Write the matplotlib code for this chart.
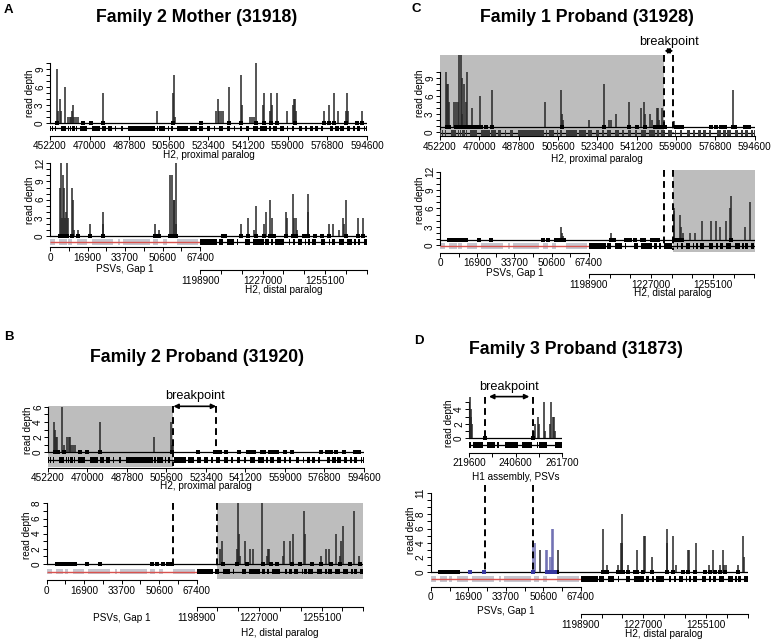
import matplotlib.pyplot as plt
import numpy as np

plt.rcParams['font.family'] = ['Liberation Sans', 'DejaVu Sans']

W, H = 771, 641

# ---- coordinate systems ----
PROX_START, PROX_END = 452200, 594600
PSV_END = 67400
DIST_START, DIST_END = 1198900, 1273833
XSPAN = 142400  # PSVs (0-67400) joined to the distal paralog on one axis

prox_ticks = [452200, 470000, 487800, 505600, 523400, 541200, 559000, 576800, 594600]
psv_ticks = [0, 16900, 33700, 50600, 67400]
psv_minor = [8450, 25300, 42150, 59000]
dist_ticks = [1198900, 1227000, 1255100]
dist_minor = [1208267, 1217633, 1236367, 1245733, 1264467, 1273833]
h1_ticks = [219600, 240600, 261700]
h1_minor = [230100, 251150]

# ---- gene / PSV tracks (start, end) ----
prox_blocks = [(452200, 452650), (453100, 453400), (453850, 454150), (454600, 454900),
               (457150, 459250), (460150, 460600), (461200, 461650), (462100, 463450),
               (464050, 464500), (465700, 469000), (470950, 474700), (475450, 477400),
               (478450, 479950), (481450, 482050), (484000, 485200), (487450, 499400),
               (500150, 500750), (501350, 503900), (505100, 505550), (506450, 507350),
               (509150, 514400), (515150, 518150), (519200, 521150), (522650, 524150),
               (525650, 526400), (527900, 529850), (531650, 533150), (534650, 535400),
               (537350, 538550), (540350, 541400), (543350, 545450), (546650, 549650),
               (550400, 551450), (552350, 554150), (555350, 557150), (558650, 559250),
               (560900, 561650), (563900, 565400), (566900, 567600), (569100, 570150),
               (571350, 572550), (573900, 574800), (577800, 579300), (580350, 581850),
               (582300, 584100), (585600, 587100), (588300, 589350), (590100, 591600),
               (593100, 593850), (594150, 594600)]
dist_blocks = [(1198900, 1206450), (1207200, 1209150), (1210950, 1213950), (1215450, 1215900),
               (1219200, 1221150), (1222650, 1227450), (1228200, 1229700), (1230750, 1231650),
               (1232700, 1236450), (1238700, 1239450), (1240650, 1241700), (1242900, 1244700),
               (1246150, 1246600), (1247350, 1248400), (1249150, 1251100), (1253200, 1255150),
               (1256650, 1257400), (1258150, 1259650), (1261150, 1263400), (1264900, 1267150),
               (1268200, 1269100), (1269700, 1270900), (1272400, 1273833)]
psv_blocks = [(0, 2250), (4200, 7500), (8250, 9750), (12000, 16800), (18750, 28500),
              (30750, 31500), (33000, 44950), (46450, 48700), (50650, 52450), (56950, 66700)]
h1_blocks = [(219600, 220500), (221250, 226050), (227550, 231350), (232400, 233300),
             (235850, 241850), (243350, 247900), (250150, 250900), (251350, 254650),
             (258400, 261700)]

# ---- A: Family 2 Mother ----
a_top_pos = [455500, 455950, 456700, 457000, 458800, 460150, 461050, 461640, 462250, 462400,
             463140, 463900, 464800, 475900, 500170, 507660, 507960, 508260, 526850, 527600,
             528200, 529100, 529850, 532400, 537950, 538250, 542140, 542890, 543640, 544840,
             547840, 548140, 550840, 551440, 551740, 554130, 558630, 561180, 561630, 562230,
             562530, 575120, 577520, 579620, 581710, 585310, 585610, 585910, 592360]
a_top_h = [9, 2, 4, 2, 6, 1, 1, 1, 2, 3, 1, 1, 1, 5, 2, 5, 8, 1, 2, 4, 2, 2, 2, 6, 8,
           3, 1, 1, 1, 10, 3, 5, 2, 5, 3, 5, 2, 3, 4, 4, 2, 2, 3, 5, 2, 2, 5, 2, 2]
a_top_zero = [455500, 467190, 470490, 475880, 507660, 520110, 532400, 537950, 544840, 548140,
              551430, 554130, 562230, 575120, 577520, 579620, 585310, 590110, 592360]
a_bot_psv_pos = [4500, 4950, 5400, 6000, 6450, 6900, 7350, 7800, 8250, 9750, 10200, 10650,
                 12450, 18000, 23700, 24000, 47100, 49000, 54000, 54700, 55500, 55900, 56400, 56700]
a_bot_psv_h = [8, 12, 3, 10, 8, 3, 4, 12, 3, 8, 6, 1, 1, 2, 4, 2, 2, 1, 10, 10, 6, 6, 12, 2]
a_bot_psv_zero = [4500, 6000, 7500, 9750, 12450, 18000, 23700, 47100, 49000, 54000, 54700,
                  55500, 56400]
a_bot_dist_pos = [1217240, 1220240, 1222940, 1223990, 1227440, 1228340, 1230130, 1231180,
                  1237480, 1237930, 1240630, 1241230, 1241980, 1242280, 1247220, 1247520,
                  1256670, 1258470, 1261310, 1262960, 1263410, 1264460, 1269700, 1271960]
a_bot_dist_h = [2, 3, 1, 5, 2, 4, 6, 3, 4, 3, 7, 3, 3, 1, 7, 4, 2, 2, 1, 3, 2, 6, 3, 3]
a_bot_dist_zero = [1209150, 1210200, 1217240, 1220240, 1223990, 1227440, 1230130, 1232230,
                   1237480, 1240630, 1241980, 1245420, 1247220, 1250670, 1253670, 1256670,
                   1264460, 1269700, 1271960]

# ---- B: Family 2 Proband ----
b_top_pos = [454910, 455360, 455970, 456420, 458380, 459580, 460940, 461540, 461990, 462750,
             463500, 464560, 475560, 499970, 507510, 507960, 508410]
b_top_h = [4, 3, 2, 2, 6, 1, 2, 2, 2, 1, 1, 1, 4, 2, 4, 1, 1]
b_top_zero = [455210, 456720, 459430, 466820, 469980, 475560, 507960, 520020, 527550, 528600,
              529670, 532530, 538100, 542170, 543670, 545180, 548650, 549400, 552420, 553930,
              555440, 559200, 562210, 575020, 577730, 579540, 581800, 585570, 590390, 592350]
b_top_break = (508710, 528000)
b_bot_dist_pos = [1209450, 1210500, 1217240, 1217540, 1217840, 1218440, 1220690, 1222940,
                  1224140, 1228490, 1230430, 1231180, 1231480, 1237930, 1238230, 1240930,
                  1242430, 1247220, 1247670, 1254720, 1256970, 1258620, 1261460, 1263410,
                  1263710, 1264610, 1269710, 1272110]
b_bot_dist_h = [2, 3, 2, 8, 4, 1, 3, 2, 2, 8, 1, 2, 2, 1, 3, 3, 4, 7, 4, 1, 2, 2, 4, 1,
                3, 5, 7, 1]
b_bot_psv_zero = [4500, 5700, 6750, 7800, 9000, 10190, 11240, 12740, 18290, 23980, 47220,
                  49470, 52470, 54710, 55760, 56510]
b_bot_dist_zero = [1210650, 1217240, 1221440, 1228940, 1232230, 1234930, 1241680, 1245420,
                   1250670, 1254720, 1259210, 1263410, 1267910, 1272410]
b_bot_break_psv = 56960
b_bot_break_dist = 1207950

# ---- C: Family 1 Proband ----
c_top_pos = [454900, 455350, 455800, 456400, 458500, 459400, 460150, 460890, 461490, 461940,
             462240, 463140, 463890, 464490, 466890, 470190, 475730, 499870, 507210, 507510,
             507810, 519800, 526550, 528650, 529400, 531950, 537640, 543340, 544540, 545140,
             547390, 548140, 550380, 550830, 551430, 552930, 553530, 558330, 584860]
c_top_h = [10, 8, 8, 5, 5, 5, 5, 13, 13, 9, 3, 8, 5, 10, 4, 6, 7, 5, 7, 3, 2, 2, 8, 2, 2,
           3, 5, 4, 5, 3, 3, 2, 4, 4, 2, 4, 2, 1.8, 7]
c_top_zero = [455500, 456400, 459250, 460150, 461190, 463000, 464640, 465690, 467190, 468990,
              470940, 473190, 475880, 507660, 526400, 537640, 541390, 545140, 549640, 551130,
              552630, 554130, 558930, 560880, 561930, 574820, 577370, 579620, 581410, 584860,
              585610, 590110, 591910]
c_top_break = (553830, 557880)
c_bot_psv_pos = [54860, 55160, 55610]
c_bot_psv_h = [3, 2, 1.5]
c_bot_dist_pos = [1208850, 1237330, 1237630, 1240330, 1240630, 1241680, 1244670, 1246920,
                  1250220, 1254420, 1256370, 1258320, 1261020, 1262660, 1263110, 1269410, 1271960]
c_bot_dist_h = [2, 5.5, 6, 5, 3, 2, 2, 2, 4, 4, 4, 3, 4, 6, 8, 3, 7]
c_bot_psv_zero = [4200, 5250, 6300, 7200, 8240, 9290, 10490, 11990, 17690, 23230, 46770,
                  48720, 52470, 53960, 55460, 56210]
c_bot_dist_zero = [1208700, 1210200, 1215740, 1217690, 1219640, 1222940, 1223690, 1227440,
                   1228940, 1230130, 1237630, 1239430, 1240930, 1263410]
c_bot_break = (1233130, 1237180)

# ---- D: Family 3 Proband ----
d_top_pos = [220050, 220350, 220650, 220950, 248780, 249230, 250730, 251330, 253440, 253890,
             256150, 256750, 257350, 257950, 258550]
d_top_h = [6, 4, 3, 2, 1, 2, 3, 2, 5, 1, 2, 5, 3, 3, 1]
d_top_zero = [226670, 248630]
d_top_break = (226820, 248630)
d_bot_psv_blue_pos = [46110, 46860, 51800, 52400, 53590, 54340, 54640, 55090]
d_bot_psv_blue_h = [4, 4, 3, 3, 2, 6, 2, 6]
d_bot_psv_pos = [49100, 57040]
d_bot_psv_h = [3, 3]
d_bot_dist_pos = [1209040, 1210540, 1215480, 1216980, 1217280, 1217580, 1220270, 1224020,
                  1227310, 1227910, 1230750, 1237490, 1237790, 1240480, 1241680, 1247220,
                  1247520, 1250510, 1256650, 1258450, 1261440, 1262940, 1263390, 1264140,
                  1269670, 1271920, 1272220]
d_bot_dist_h = [6, 1, 1, 4, 8, 4, 1, 3, 5, 5, 2, 6, 4, 5, 1, 3, 3, 4, 1, 3, 1, 3, 1, 1,
                1, 5, 2]
d_bot_psv_zero = [4190, 5690, 6890, 7930, 9130, 10480, 12430, 56590]
d_bot_psv_zero_blue = [17660, 24100, 46110, 52100, 53290, 54340, 55840]
d_bot_dist_zero = [1209040, 1210540, 1215780, 1217280, 1218030, 1220270, 1223270, 1224020,
                   1227010, 1230750, 1237490, 1240480, 1244980, 1247220, 1250210, 1254700,
                   1256950, 1259190, 1261440, 1263690, 1269670]
d_bot_break = (24400, 46110)

SHIFT = PSV_END - DIST_START  # distal paralog -> joined axis
BAR = '#262626'
BLUE = '#6b6bb0'
SHADE = '#bdbdbd'
RED = '#d9534f'
FS = 7.2

fig = plt.figure(figsize=(W / 100, H / 100), dpi=100)


def add_ax(left, top, right, bottom):
    return fig.add_axes([left / W, 1 - bottom / H, (right - left) / W, (bottom - top) / H])


def ftext(x, y, s, **kw):
    kw.setdefault('ha', 'center')
    kw.setdefault('va', 'center')
    kw.setdefault('fontsize', FS)
    fig.text(x / W, 1 - y / H, s, **kw)


def set_xticks(ax, major, minor):
    ax.set_xticks(major, labels=[str(t) for t in major])
    ax.set_xticks(minor, minor=True)


def depth_axes(left, right, zero_px, ppu, ylo, yhi, spine_top, major):
    ax = add_ax(left, zero_px - yhi * ppu, right, zero_px - ylo * ppu)
    ax.set_ylim(ylo, yhi)
    ax.patch.set_visible(False)
    ax.spines[['top', 'right']].set_visible(False)
    for s in ('left', 'bottom'):
        ax.spines[s].set_linewidth(0.8)
    ax.spines['left'].set_bounds(0, spine_top)
    ax.set_yticks(major)
    ax.set_yticks(np.arange(0, spine_top + 1), minor=True)
    ax.tick_params(axis='y', which='both', length=2.8, width=0.7, labelsize=FS, pad=0.8)
    for lab in ax.get_yticklabels():
        lab.set_rotation(90)
        lab.set_va('center')
    ax.tick_params(axis='x', which='both', length=3, width=0.7, labelsize=FS, pad=1)
    ax.ppu = ppu
    return ax


def prox_xaxis(ax, drop):
    ax.set_xlim(PROX_START, PROX_END)
    ax.spines['bottom'].set_bounds(PROX_START, PROX_END)
    ax.spines['bottom'].set_position(('outward', drop * 0.72))
    set_xticks(ax, prox_ticks, [])


def joined_xaxis(ax, drop):
    ax.set_xlim(0, XSPAN)
    ax.spines['bottom'].set_bounds(0, PSV_END)
    ax.spines['bottom'].set_position(('outward', drop * 0.72))
    set_xticks(ax, psv_ticks, psv_minor)


def distal_axis(left, right, y_px):
    ax = add_ax(left, y_px - 2, right, y_px)
    ax.patch.set_visible(False)
    ax.set_xlim(DIST_START - PSV_END, DIST_START - PSV_END + XSPAN)
    ax.spines[['top', 'right', 'left']].set_visible(False)
    ax.spines['bottom'].set_linewidth(0.8)
    ax.spines['bottom'].set_bounds(DIST_START, DIST_END)
    ax.set_yticks([])
    set_xticks(ax, dist_ticks, dist_minor)
    ax.tick_params(axis='x', which='both', length=3, width=0.7, labelsize=FS, pad=1)


def gene_track(ax, blocks, y, x0, x1, shift=0, color='k'):
    half = 2.8 / ax.ppu
    ax.hlines(y, x0, x1, color='k', lw=0.9, zorder=3)
    ax.broken_barh([(s + shift, e - s) for s, e in blocks], (y - half, 2 * half),
                   facecolors=color, lw=0, zorder=3)


def psv_track(ax, y):
    half = 2.8 / ax.ppu
    ax.broken_barh([(s, e - s) for s, e in psv_blocks], (y - half, 2 * half),
                   facecolors='#c6c6cf', lw=0, zorder=2)
    ax.hlines(y, 0, PSV_END, color=RED, lw=1.0, zorder=3)


def bars(ax, pos, h, base=0, shift=0, color=BAR):
    ax.vlines(np.asarray(pos) + shift, base, h, color=color, lw=1.1, zorder=4)


def zeros(ax, pos, y=0, shift=0, color='k'):
    x = np.asarray(pos) + shift
    ax.plot(x, np.full(len(x), y), 's', ms=2.3, color=color, mew=0, zorder=5)


def dashed(ax, x, y0, y1):
    ax.plot([x, x], [y0, y1], color='k', lw=1.4, ls=(0, (3.5, 2.2)), clip_on=False, zorder=6)


def breakpoint_label(ax, x0, x1, arrow_frac, text_pts):
    ax.annotate('', xy=(x0, arrow_frac), xycoords=('data', 'axes fraction'),
                xytext=(x1, arrow_frac), textcoords=('data', 'axes fraction'),
                arrowprops=dict(arrowstyle='<|-|>', color='k', lw=1.2, mutation_scale=7,
                                shrinkA=0, shrinkB=0), annotation_clip=False)
    ax.annotate('breakpoint', xy=((x0 + x1) / 2, 1), xycoords=('data', 'axes fraction'),
                xytext=(0, text_pts), textcoords='offset points', ha='center', va='center',
                fontsize=9.2, annotation_clip=False)


# =============== A ===============
ftext(4, 10, 'A', fontsize=9.5, fontweight='bold', ha='left')
ftext(197, 17, 'Family 2 Mother (31918)', fontsize=12.8, fontweight='bold')

ax = depth_axes(50, 367, 123.3, 6.0, -1.6, 10, 10, [0, 3, 6, 9])
prox_xaxis(ax, 3)
ax.axhline(0, color='k', lw=0.9, zorder=3)
gene_track(ax, prox_blocks, -0.85, PROX_START, PROX_END)
bars(ax, a_top_pos, a_top_h)
zeros(ax, a_top_zero)
ftext(30, 93, 'read depth', rotation=90)
ftext(208.5, 155, 'H2, proximal paralog')

ax = depth_axes(50, 367, 236, 6.06, -1.6, 12, 12, [0, 3, 6, 9, 12])
joined_xaxis(ax, 1.6)
ax.axhline(0, color='k', lw=0.9, zorder=3)
psv_track(ax, -1)
gene_track(ax, dist_blocks, -1, PSV_END, XSPAN, shift=SHIFT)
bars(ax, a_bot_psv_pos, a_bot_psv_h)
bars(ax, a_bot_dist_pos, a_bot_dist_h, shift=SHIFT)
zeros(ax, a_bot_psv_zero)
zeros(ax, a_bot_dist_zero, shift=SHIFT)
distal_axis(50, 367, 270)
ftext(30, 200, 'read depth', rotation=90)
ftext(125, 269, 'PSVs, Gap 1')
ftext(283.5, 290, 'H2, distal paralog')

# =============== B ===============
ftext(4, 337, 'B', fontsize=9.5, fontweight='bold', ha='left')
ftext(197, 357, 'Family 2 Proband (31920)', fontsize=12.8, fontweight='bold')

ax = depth_axes(48, 364, 452.3, 7.6, -1.9, 6.05, 6, [0, 2, 4, 6])
prox_xaxis(ax, 1)
ax.axvspan(PROX_START, b_top_break[0], color=SHADE, lw=0, zorder=0)
ax.axhline(0, color='k', lw=0.9, zorder=3)
gene_track(ax, prox_blocks, -1, PROX_START, PROX_END)
bars(ax, b_top_pos, b_top_h)
zeros(ax, b_top_zero)
dashed(ax, b_top_break[0], 6.05, -1.8)
dashed(ax, b_top_break[1], 6.05, 0)
breakpoint_label(ax, b_top_break[0], b_top_break[1], 1.0, 7.4)
ftext(28, 430, 'read depth', rotation=90)
ftext(206, 486, 'H2, proximal paralog')

ax = depth_axes(46.7, 363.3, 564, 7.58, -2.0, 8.1, 8, [0, 2, 4, 6, 8])
joined_xaxis(ax, 1)
ax.axvspan(b_bot_break_dist + SHIFT, XSPAN, color=SHADE, lw=0, zorder=0)
ax.axhline(0, color='k', lw=0.9, zorder=3)
psv_track(ax, -1)
gene_track(ax, dist_blocks, -1, PSV_END, XSPAN, shift=SHIFT)
bars(ax, b_bot_dist_pos, b_bot_dist_h, shift=SHIFT)
zeros(ax, b_bot_psv_zero)
zeros(ax, b_bot_dist_zero, shift=SHIFT)
dashed(ax, b_bot_break_psv, 8.1, 0)
dashed(ax, b_bot_break_dist + SHIFT, 8.1, -1)
distal_axis(46.7, 363.3, 607.3)
ftext(26.7, 535, 'read depth', rotation=90)
ftext(122, 618, 'PSVs, Gap 1')
ftext(280, 633, 'H2, distal paralog')

# =============== C ===============
ftext(412, 9, 'C', fontsize=9.5, fontweight='bold', ha='left')
ftext(587, 18, 'Family 1 Proband (31928)', fontsize=12.8, fontweight='bold')

ax = depth_axes(440, 754.5, 132.3, 6.0, -0.7, 12.9, 10, [0, 3, 6, 9])
prox_xaxis(ax, 0)
ax.axvspan(PROX_START, c_top_break[0], color=SHADE, lw=0, zorder=0)
ax.axhline(0.83, color='k', lw=0.9, zorder=3)
gene_track(ax, prox_blocks, -0.15, PROX_START, PROX_END, color='#3a3a3a')
bars(ax, c_top_pos, c_top_h, base=0.83)
zeros(ax, c_top_zero, y=0.83)
dashed(ax, c_top_break[0], 12.9, -0.2)
dashed(ax, c_top_break[1], 12.9, -0.2)
breakpoint_label(ax, c_top_break[0], c_top_break[1], 1.05, 9.3)
ftext(420, 93, 'read depth', rotation=90)
ftext(597, 159, 'H2, proximal paralog')

ax = depth_axes(440, 754.5, 245, 6.1, -1.1, 12.3, 12, [0, 3, 6, 9, 12])
joined_xaxis(ax, 1)
ax.axvspan(c_bot_break[1] + SHIFT, XSPAN, color=SHADE, lw=0, zorder=0)
ax.axhline(0.8, color='k', lw=0.9, zorder=3)
psv_track(ax, -0.15)
gene_track(ax, dist_blocks, -0.15, PSV_END, XSPAN, shift=SHIFT)
bars(ax, c_bot_psv_pos, c_bot_psv_h, base=0.8)
bars(ax, c_bot_dist_pos, c_bot_dist_h, base=0.8, shift=SHIFT)
zeros(ax, c_bot_psv_zero, y=0.8)
zeros(ax, c_bot_dist_zero, y=0.8, shift=SHIFT)
dashed(ax, c_bot_break[0] + SHIFT, 12.3, 0)
dashed(ax, c_bot_break[1] + SHIFT, 12.3, -0.8)
distal_axis(440, 754.5, 274.3)
ftext(420, 200, 'read depth', rotation=90)
ftext(515, 273.3, 'PSVs, Gap 1')
ftext(673, 293.3, 'H2, distal paralog')

# =============== D ===============
ftext(414, 341, 'D', fontsize=9.5, fontweight='bold', ha='left')
ftext(576, 349, 'Family 3 Proband (31873)', fontsize=12.8, fontweight='bold')

ax = depth_axes(469, 562.3, 438.3, 7.25, -1.5, 5.75, 5, [0, 2, 4])
ax.set_xlim(h1_ticks[0], h1_ticks[-1])
ax.spines['bottom'].set_bounds(h1_ticks[0], h1_ticks[-1])
ax.spines['bottom'].set_position(('outward', 3.5 * 0.72))
set_xticks(ax, h1_ticks, h1_minor)
ax.axhline(0, color='k', lw=0.9, zorder=3)
gene_track(ax, h1_blocks, -0.9, h1_ticks[0], h1_ticks[-1])
bars(ax, d_top_pos, d_top_h)
zeros(ax, d_top_zero)
dashed(ax, d_top_break[0], 5.75, 0)
dashed(ax, d_top_break[1], 5.75, 0)
breakpoint_label(ax, d_top_break[0] + 1800, d_top_break[1] - 1800, 1.0, 7)
ftext(449, 423, 'read depth', rotation=90)
ftext(515.5, 477, 'H1 assembly, PSVs')

ax = depth_axes(430.7, 747.7, 571.7, 7.2, -1.6, 11.2, 11, [0, 2, 4, 6, 8, 11])
joined_xaxis(ax, 3.5)
ax.axhline(0, color='k', lw=0.9, zorder=3)
psv_track(ax, -1)
gene_track(ax, dist_blocks, -1, PSV_END, XSPAN, shift=SHIFT)
bars(ax, d_bot_psv_blue_pos, d_bot_psv_blue_h, color=BLUE)
bars(ax, d_bot_psv_pos, d_bot_psv_h)
bars(ax, d_bot_dist_pos, d_bot_dist_h, shift=SHIFT)
zeros(ax, d_bot_psv_zero)
zeros(ax, d_bot_psv_zero_blue, color='#3838a0')
zeros(ax, d_bot_dist_zero, shift=SHIFT)
dashed(ax, d_bot_break[0], 12.0, 0)
dashed(ax, d_bot_break[1], 12.0, 0)
distal_axis(430.7, 747.7, 614.3)
ftext(411, 530, 'read depth', rotation=90)
ftext(506, 611, 'PSVs, Gap 1')
ftext(664, 634, 'H2, distal paralog')

fig.savefig('out.png', dpi=100)
